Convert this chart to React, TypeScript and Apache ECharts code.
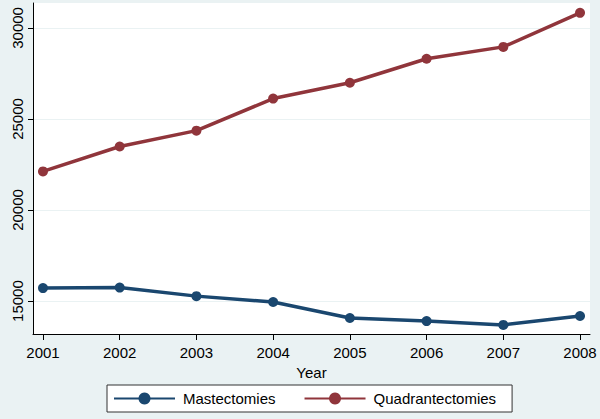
import React, { useEffect, useRef } from "react";
import * as echarts from "echarts";

const years = [2001, 2002, 2003, 2004, 2005, 2006, 2007, 2008];
const mastectomies = [15710, 15740, 15270, 14950, 14070, 13900, 13690, 14180];
const quadrantectomies = [22120, 23490, 24360, 26120, 26990, 28310, 28960, 30830];
const yTicks = [15000, 20000, 25000, 30000];
const seriesNames = ["Mastectomies", "Quadrantectomies"];

const FONT = "'Liberation Sans', Arial, sans-serif";

export default function App() {
  const ref = useRef<HTMLDivElement>(null);
  useEffect(() => {
    if (!ref.current) return;
    const chart = echarts.init(ref.current, undefined, { renderer: "svg" });
    chart.setOption({
      animation: false,
      backgroundColor: "#EAF2F3",
      textStyle: { fontFamily: FONT },
      grid: {
        left: 33,
        right: 10,
        top: 3,
        bottom: 85,
        show: true,
        backgroundColor: "#ffffff",
        borderWidth: 0,
      },
      xAxis: {
        type: "value",
        min: 2000.87,
        max: 2008.13,
        name: "Year",
        nameLocation: "middle",
        nameGap: 24,
        nameTextStyle: { color: "#000", fontSize: 15, fontFamily: FONT },
        axisLine: { show: true, onZero: false, lineStyle: { color: "#000", width: 1 } },
        axisTick: { show: true, length: 6, customValues: years, lineStyle: { color: "#000" } },
        axisLabel: {
          customValues: years,
          color: "#000",
          fontSize: 15,
          fontFamily: FONT,
          margin: 11,
          formatter: (v: number) => String(Math.round(v)),
        },
        splitLine: { show: false },
      },
      yAxis: {
        type: "value",
        min: 13190,
        max: 31370,
        axisLine: { show: true, onZero: false, lineStyle: { color: "#000", width: 1 } },
        axisTick: { show: true, length: 5, customValues: yTicks, lineStyle: { color: "#000" } },
        axisLabel: {
          customValues: yTicks,
          rotate: 90,
          color: "#000",
          fontSize: 15,
          fontFamily: FONT,
          margin: 8,
          formatter: (v: number) => String(Math.round(v)),
        },
        splitLine: { show: true, lineStyle: { color: "#EAF2F3", width: 1 } },
      },
      legend: {
        left: 107,
        top: 385,
        orient: "horizontal",
        backgroundColor: "#ffffff",
        borderColor: "#333333",
        borderWidth: 1,
        borderRadius: 0,
        padding: [6, 16, 6, 6],
        itemWidth: 61,
        itemHeight: 15,
        itemGap: 28,
        textStyle: { color: "#000", fontSize: 15, fontFamily: FONT, padding: [0, 0, 0, 3] },
        data: seriesNames,
      },
      series: [
        {
          name: seriesNames[0],
          type: "line",
          data: years.map((y, i) => [y, mastectomies[i]]),
          color: "#1A476F",
          lineStyle: { width: 3.5, color: "#1A476F" },
          itemStyle: { color: "#1A476F" },
          symbol: "circle",
          symbolSize: 10,
          showSymbol: true,
        },
        {
          name: seriesNames[1],
          type: "line",
          data: years.map((y, i) => [y, quadrantectomies[i]]),
          color: "#90353B",
          lineStyle: { width: 3.5, color: "#90353B" },
          itemStyle: { color: "#90353B" },
          symbol: "circle",
          symbolSize: 10,
          showSymbol: true,
        },
      ],
    });
    return () => chart.dispose();
  }, []);
  return (
    <div
      ref={ref}
      style={{ position: "fixed", left: 0, top: 0, width: 600, height: 419 }}
    />
  );
}
